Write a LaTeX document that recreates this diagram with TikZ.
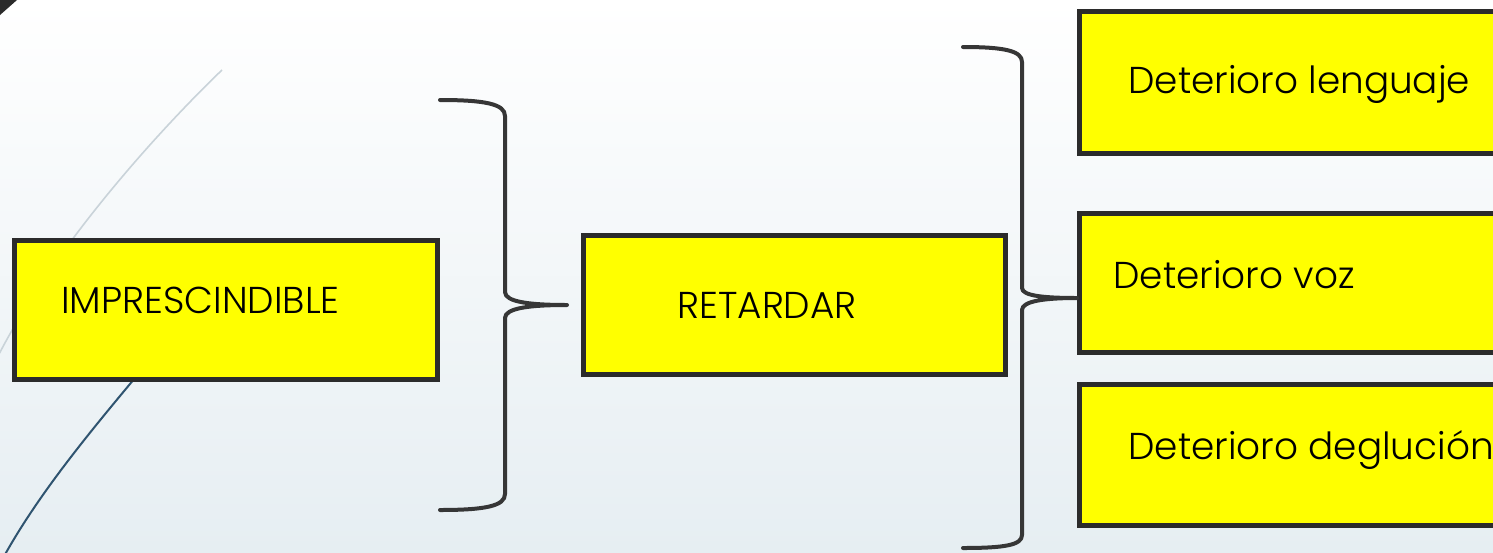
\documentclass[tikz,border=0pt]{standalone}
\usepackage{fontspec}
\setmainfont{Poppins}[UprightFont=* Light]
\definecolor{boxline}{HTML}{2B2B2B}
\definecolor{boxfill}{HTML}{FFFF00}
\definecolor{braceline}{HTML}{363636}
\definecolor{bgbot}{HTML}{E6EEF2}
\definecolor{graycurve}{HTML}{C9D3D9}
\definecolor{bluecurve}{HTML}{2F5470}
\begin{document}
\begin{tikzpicture}[x=0.5pt,y=-0.5pt,
  box/.style={draw=boxline, line width=2.5pt, fill=boxfill, inner sep=0pt, outer sep=0pt},
  lbl/.style={anchor=base west, inner sep=0pt, font=\fontsize{18.7}{21}\selectfont, text=black},
  brace/.style={draw=braceline, line width=2pt, line cap=round, line join=round}]
\useasboundingbox (0,0) rectangle (1493,552);
\clip (0,0) rectangle (1493,552);
\shade[top color=white, bottom color=bgbot] (0,0) rectangle (1493,552);
% decorative elements
\fill[boxline] (0,0) -- (17,0) -- (0,15) -- cycle;
\draw[graycurve, line width=0.8pt] (222,70) .. controls (175,115) and (60,235) .. (-3,358);
\draw[bluecurve, line width=1pt] (150,360) .. controls (100,420) and (40,490) .. (2,560);
% boxes
\node[box, minimum width=211.5pt, minimum height=69.5pt] (b1) at (226,310) {};
\node[box, minimum width=211pt, minimum height=69.5pt] (b2) at (794.5,305) {};
\node[box, minimum width=214pt, minimum height=71pt] (b3) at (1293.5,82.5) {};
\node[box, minimum width=214pt, minimum height=69.5pt] (b4) at (1293.5,283) {};
\node[box, minimum width=214pt, minimum height=70.5pt] (b5) at (1293.5,455) {};
% labels
\node[lbl] (t1) at (61,313) {IMPRESCINDIBLE};
\node[lbl] (t2) at (677,318) {RETARDAR};
\node[lbl] (t3) at (1128,93) {Deterioro lenguaje};
\node[lbl] (t4) at (1113,288) {Deterioro voz};
\node[lbl] (t5) at (1128,459) {Deterioro deglución};
% braces
\coordinate (br1top) at (440,100);
\coordinate (br1bot) at (440,510);
\coordinate (br1tip) at (567,305);
\draw[brace] (br1top) .. controls (485,100) and (505,104) .. (505,116) -- (505,292)
  .. controls (505,302) and (530,305) .. (br1tip)
  .. controls (530,305) and (505,308) .. (505,318) -- (505,494)
  .. controls (505,506) and (485,510) .. (br1bot);
\coordinate (br2top) at (963,47);
\coordinate (br2bot) at (963,548);
\coordinate (br2tip) at (1077,298);
\draw[brace] (br2top) .. controls (1005,47) and (1022,51) .. (1022,62) -- (1022,288)
  .. controls (1022,296) and (1045,298) .. (br2tip)
  .. controls (1045,298) and (1022,301) .. (1022,310) -- (1022,535)
  .. controls (1022,545) and (1005,548) .. (br2bot);
\end{tikzpicture}
\end{document}
